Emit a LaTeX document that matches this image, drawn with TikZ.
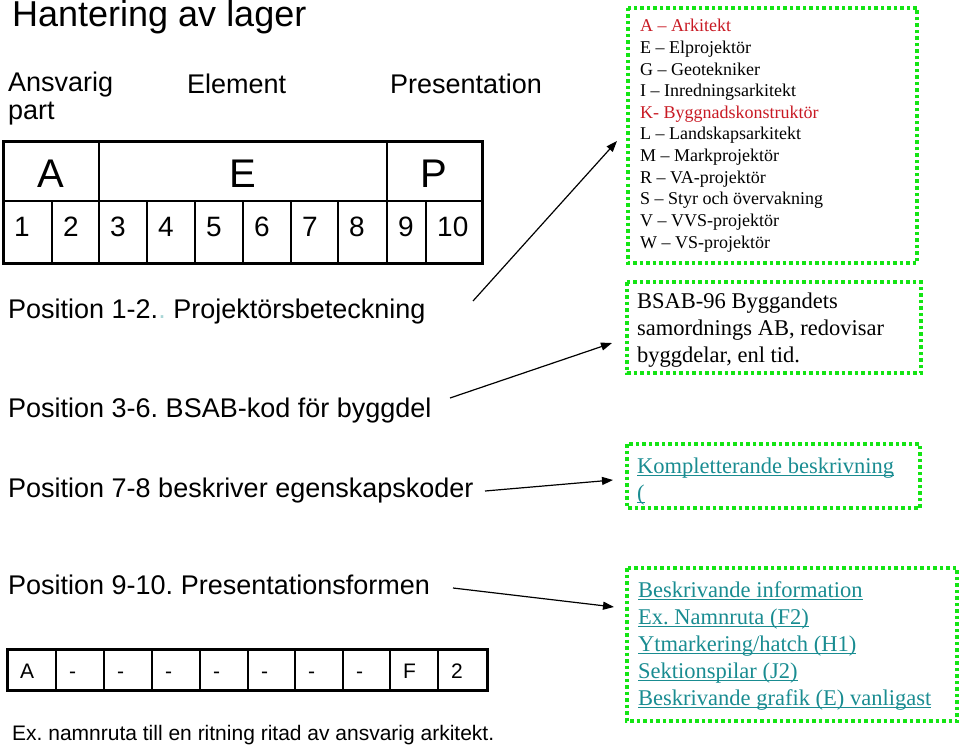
\documentclass[tikz,border=0pt]{standalone}
\usepackage{fontspec}
\setmainfont{Liberation Sans}
\newfontfamily\seriffont[Ligatures=TeX]{Liberation Serif}
\usetikzlibrary{arrows.meta}
\definecolor{mgreen}{RGB}{20,228,20}
\definecolor{mred}{RGB}{200,25,35}
\definecolor{mteal}{RGB}{25,140,145}
\definecolor{mfaint}{RGB}{170,215,215}
\newcommand\myul[1]{\leavevmode\setbox0\hbox{#1}\rlap{\color{mteal}\rule[-3pt]{\wd0}{1pt}}\box0}
\frenchspacing
\begin{document}
\begin{tikzpicture}[x=1pt,y=-1pt,
  lbl/.style={anchor=base west,inner sep=0pt,font=\fontsize{27}{32}\selectfont},
  ttl/.style={anchor=base west,inner sep=0pt,font=\fontsize{36}{40}\selectfont},
  big/.style={anchor=base,inner sep=0pt,font=\fontsize{40}{44}\selectfont},
  num/.style={anchor=base west,inner sep=0pt,font=\fontsize{28}{32}\selectfont},
  sml/.style={anchor=base west,inner sep=0pt,font=\fontsize{21}{25}\selectfont},
  lst/.style={anchor=base west,inner sep=0pt,font=\seriffont\fontsize{18}{21}\selectfont},
  btx/.style={anchor=base west,inner sep=0pt,font=\seriffont\fontsize{22.5}{27}\selectfont},
  ltx/.style={btx,text=mteal},
  gline/.style={draw=mgreen,line width=3.5pt,dash pattern=on 3.5pt off 3pt},
  thin/.style={line width=1.4pt},
  thick/.style={line width=3pt},
  arr/.style={line width=1.2pt,-{Triangle[length=11pt,width=8pt]}}
]
\useasboundingbox (0,0) rectangle (960,746);

% Title and headers
\node[ttl] (title) at (12,27) {Hantering av lager};
\node[lbl] (ans) at (8,92) {Ansvarig};
\node[lbl] (part) at (8,120) {part};
\node[lbl] (elem) at (187,94) {Element};
\node[lbl] (pres) at (390,94) {Presentation};

% Top table
\draw[thin] (3,201) -- (482,201);
\foreach \x in {52,147,195,243,291,338,426} \draw[thin] (\x,201) -- (\x,263);
\foreach \x in {99,387} \draw[thin] (\x,142) -- (\x,263);
\draw[thick] (3,142) rectangle (482,263);
\node[big] (tA) at (51,187) {A};
\node[big] (tE) at (243,187) {E};
\node[big] (tP) at (434,187) {P};
\foreach \x/\t [count=\i] in {3/1,52/2,99/3,147/4,195/5,243/6,291/7,338/8,387/9,426/10}
  \node[num] (n\i) at (\x+11,236) {\t};

% Left texts
\node[lbl] (p12) at (8,318) {Position 1-2.{\color{mfaint}.} Projektörsbeteckning};
\node[lbl] (p36) at (8,417) {Position 3-6. BSAB-kod för byggdel};
\node[lbl] (p78) at (8,497) {Position 7-8 beskriver egenskapskoder};
\node[lbl] (p910) at (8,594) {Position 9-10. Presentationsformen};

% Bottom table
\foreach \x in {56,104,152,200,248,295,343,390,438} \draw[thin] (\x,649) -- (\x,690);
\draw[thick] (7,649) rectangle (487,690);
\foreach \x/\t [count=\i] in {7/A,56/-,104/-,152/-,200/-,248/-,295/-,343/-,390/F,438/2}
  \node[sml] (b\i) at (\x+13,678) {\t};
\node[sml] (ex) at (12,740) {Ex. namnruta till en ritning ritad av ansvarig arkitekt.};

% Green boxes
\draw[gline] (628,8) rectangle (917,263);
\draw[gline] (627,282) rectangle (921,373);
\draw[gline] (627,444) rectangle (920,508);
\draw[gline] (627,568) rectangle (957,721);

% Box 1 text
\foreach \t/\c [count=\i from 0] in {%
  A – Arkitekt/mred,
  E – Elprojektör/black,
  G – Geotekniker/black,
  I – Inredningsarkitekt/black,
  K- Byggnadskonstruktör/mred,
  L – Landskapsarkitekt/black,
  M – Markprojektör/black,
  R – VA-projektör/black,
  S – Styr och övervakning/black,
  V – VVS-projektör/black,
  W – VS-projektör/black}
  \node[lst,text=\c] (l\i) at (640,32+21.6*\i) {\t};

% Box 2 text
\node[btx] (bs1) at (637,308) {BSAB-96 Byggandets};
\node[btx] (bs2) at (637,335) {samordnings AB, redovisar};
\node[btx] (bs3) at (637,362) {byggdelar, enl tid.};

% Box 3 text
\node[ltx] (kb1) at (637,473) {\myul{Kompletterande beskrivning}};
\node[ltx] (kb2) at (637,500) {\myul{(}};

% Box 4 text
\node[ltx] (bi1) at (638,597) {\myul{Beskrivande information}};
\node[ltx] (bi2) at (638,624) {\myul{Ex. Namnruta (F2)}};
\node[ltx] (bi3) at (638,651) {\myul{Ytmarkering/hatch (H1)}};
\node[ltx] (bi4) at (638,678) {\myul{Sektionspilar (J2)}};
\node[ltx] (bi5) at (638,705) {\myul{Beskrivande grafik (E) vanligast}};

% Arrows
\coordinate (a1s) at (473,301);
\coordinate (a1e) at (617,141);
\coordinate (a2s) at (450,398);
\coordinate (a2e) at (612,343);
\coordinate (a3s) at (485,491);
\coordinate (a3e) at (613,480);
\coordinate (a4s) at (453,588);
\coordinate (a4e) at (614,607);
\draw[arr] (a1s) -- (a1e);
\draw[arr] (a2s) -- (a2e);
\draw[arr] (a3s) -- (a3e);
\draw[arr] (a4s) -- (a4e);
\end{tikzpicture}
\end{document}
